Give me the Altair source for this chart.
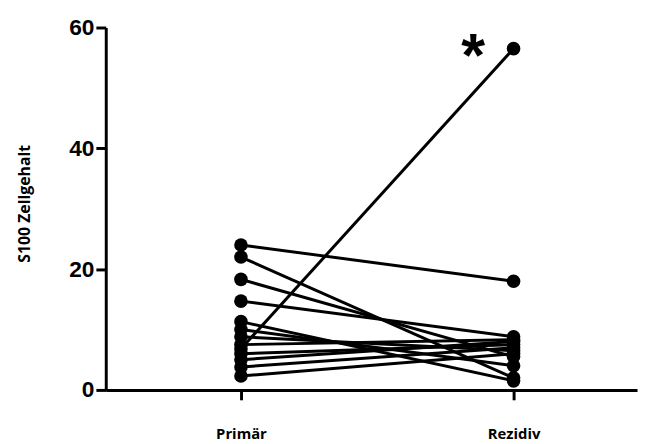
import altair as alt
import pandas as pd

groups = ["Primär", "Rezidiv"]
primaer = [24.0, 22.0, 18.3, 14.7, 11.3, 10.0, 8.8, 7.5, 6.8, 6.0, 5.0, 3.8, 2.3]
rezidiv = [18.0, 2.0, 5.5, 8.8, 1.5, 4.0, 6.5, 8.3, 56.5, 7.5, 8.0, 7.0, 6.0]
y_ticks = [0, 20, 40, 60]
marker_text = "*"

rows = []
for i, (a, b) in enumerate(zip(primaer, rezidiv)):
    rows.append({"id": i, "pos": 1, "value": a})
    rows.append({"id": i, "pos": 2, "value": b})
df = pd.DataFrame(rows)

x_scale = alt.Scale(domain=[0.504, 2.453], nice=False, zero=False)
y_scale = alt.Scale(domain=[0, 60], nice=False)

x_axis = alt.Axis(
    values=[1, 2], labelExpr="datum.value == 1 ? 'Primär' : 'Rezidiv'",
    grid=False, domainColor="black", domainWidth=3, tickColor="black",
    tickWidth=3, tickSize=10, labelFont="Open Sans", labelFontWeight="bold",
    labelFontSize=15, labelColor="black", labelPadding=27, title=None,
)
y_axis = alt.Axis(
    values=y_ticks, grid=False, domainColor="black", domainWidth=3,
    tickColor="black", tickWidth=3, tickSize=10, labelFont="Liberation Sans",
    labelFontWeight="bold", labelFontSize=23, labelColor="black",
    labelPadding=2, title="S100 Zellgehalt", titleFont="Open Sans",
    titleFontWeight="bold", titleFontSize=16, titleColor="black",
    titleX=-82, titleY=178, titleAlign="center", titleBaseline="middle",
    titleAngle=-90,
)

base = alt.Chart(df)
lines = base.mark_line(color="black", strokeWidth=3).encode(
    x=alt.X("pos:Q", scale=x_scale, axis=x_axis),
    y=alt.Y("value:Q", scale=y_scale, axis=y_axis),
    detail="id:N",
)
points = base.mark_circle(color="black", opacity=1, size=190).encode(
    x=alt.X("pos:Q", scale=x_scale),
    y=alt.Y("value:Q", scale=y_scale),
)
star = alt.Chart(pd.DataFrame({"x": [1.852], "y": [56.0], "t": [marker_text]})).mark_text(
    fontSize=62, fontWeight="bold", font="Liberation Sans", color="black",
    baseline="middle", align="center", dy=6,
).encode(x=alt.X("x:Q", scale=x_scale), y=alt.Y("y:Q", scale=y_scale), text="t:N")

chart = (lines + points + star).properties(
    width=538, height=367,
    autosize=alt.AutoSizeParams(type="none"),
    padding={"left": 99, "top": 17, "right": 3, "bottom": 52},
).configure_view(stroke=None)

chart.save("out.html", embed_options={"renderer": "svg", "actions": False})
